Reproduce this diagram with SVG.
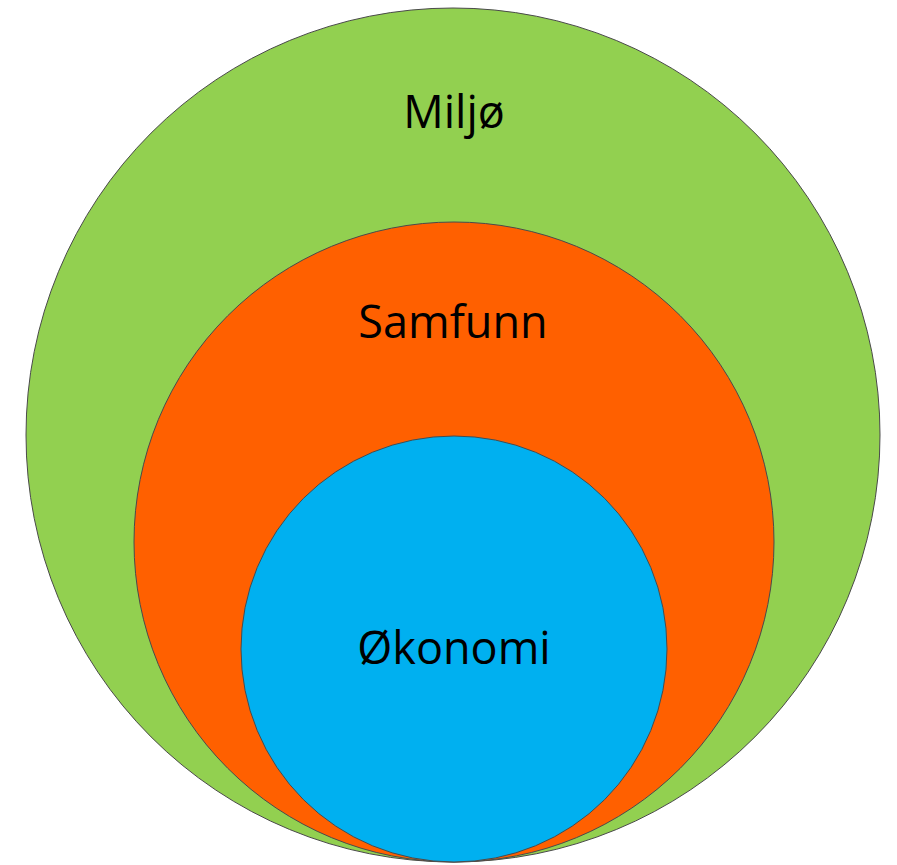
<svg xmlns="http://www.w3.org/2000/svg" width="897" height="865" viewBox="0 0 897 865">
<style>
.c{stroke:#4a4a4a;stroke-width:1}
.t{font-family:"Open Sans","Liberation Sans",sans-serif;font-size:45px;fill:#000;text-anchor:middle}
</style>
<rect width="897" height="865" fill="#fff"/>
<g id="miljo">
<circle class="c" cx="453" cy="435" r="427" fill="#92D050"/>
<text class="t" x="454" y="128">Miljø</text>
</g>
<g id="samfunn">
<circle class="c" cx="454" cy="542" r="320" fill="#FF6000"/>
<text class="t" x="453" y="338">Samfunn</text>
</g>
<g id="okonomi">
<circle class="c" cx="454" cy="649" r="213" fill="#00B0F0"/>
<text class="t" x="454" y="664">Økonomi</text>
</g>
<g id="connectors"/>
</svg>
